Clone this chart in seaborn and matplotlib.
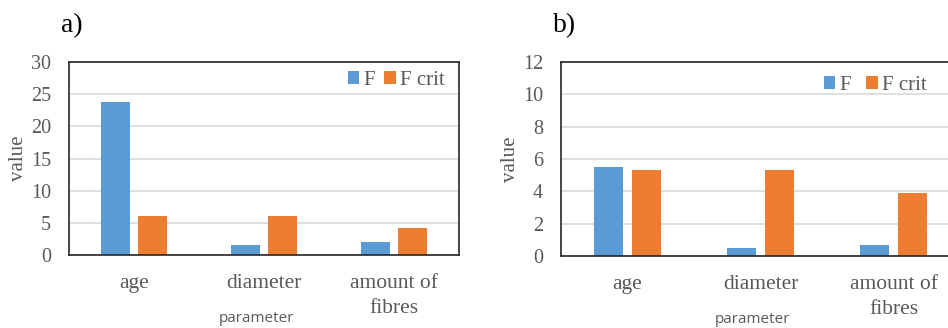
import pandas as pd
import matplotlib.pyplot as plt
import seaborn as sns

# values
params = ['age', 'diameter', 'amount of\nfibres']
f_a = [23.8, 1.6, 2.0]
fcrit_a = [6.0, 6.0, 4.2]
f_b = [5.5, 0.5, 0.7]
fcrit_b = [5.3, 5.3, 3.9]
series = ['F', 'F crit']

colors = ['#5B9BD5', '#ED7D31']
grey = '#595959'
serif = 'Liberation Serif'

sns.set_style('white')
plt.rcParams['font.family'] = [serif, 'DejaVu Serif']


def make_df(f, fcrit):
    return pd.DataFrame({
        'parameter': params * 2,
        'value': f + fcrit,
        'series': [series[0]] * 3 + [series[1]] * 3,
    })


fig = plt.figure(figsize=(9.48, 3.28), dpi=100)
ax_a = fig.add_axes([0.0728, 0.2226, 0.4114, 0.588])
ax_b = fig.add_axes([0.5918, 0.2195, 0.4209, 0.592])

panels = [
    (ax_a, make_df(f_a, fcrit_a), 30, 5, 'a)', (0.985, 0.905), 0.45),
    (ax_b, make_df(f_b, fcrit_b), 12, 2, 'b)', (0.9375, 0.88), 0.74),
]

for ax, df, ymax, step, tag, leg_pos, colsp in panels:
    sns.barplot(data=df, x='parameter', y='value', hue='series',
                palette=colors, width=0.57, gap=0.24, ax=ax,
                saturation=1, edgecolor='none')
    ax.set_ylim(0, ymax)
    ax.set_yticks(range(0, ymax + 1, step))
    ax.set_xlim(-0.5, 2.5)
    ax.grid(axis='y', color='#d9d9d9', linewidth=1.2)
    ax.set_axisbelow(True)
    for s in ax.spines.values():
        s.set_visible(True)
        s.set_color('#262626')
        s.set_linewidth(1.2)
    ax.tick_params(axis='both', length=0, labelcolor=grey)
    ax.tick_params(axis='y', pad=13, labelsize=14.5)
    ax.tick_params(axis='x', pad=14, labelsize=15.5)
    for lbl in ax.get_xticklabels():
        lbl.set_linespacing(1.4)
    ax.set_ylabel('value', fontsize=15, color=grey, labelpad=2)
    ax.set_xlabel('parameter', fontsize=11, color=grey,
                  family=['Open Sans', 'DejaVu Sans'])
    ax.xaxis.set_label_coords(0.48, -0.29)
    ax.text(0.008, 1.187, tag, transform=ax.transAxes, fontsize=20,
            color='black', ha='center', va='center')
    leg = ax.legend(loc='center right', bbox_to_anchor=leg_pos, ncol=2,
                    frameon=False, fontsize=15, handlelength=0.55,
                    handleheight=0.55, handletextpad=0.2, columnspacing=colsp,
                    borderaxespad=0)
    for t in leg.get_texts():
        t.set_color(grey)

fig.savefig('out.png', dpi=100)
